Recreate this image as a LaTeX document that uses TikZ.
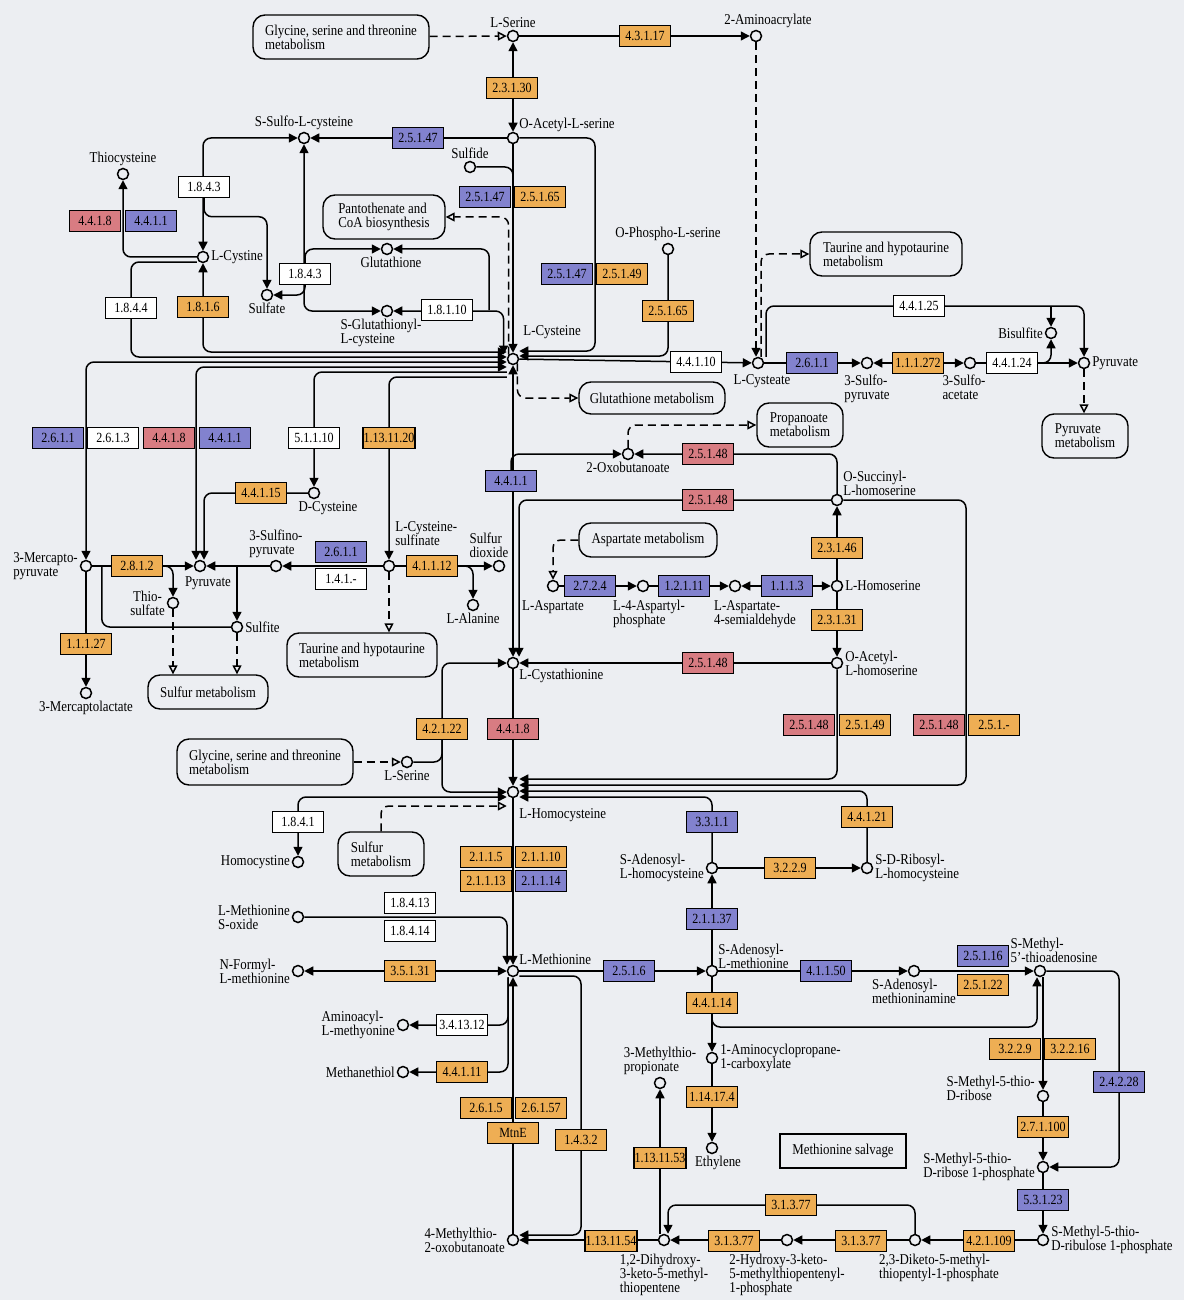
\documentclass[tikz,border=0pt]{standalone}
\usepackage{fontspec}
\setmainfont{Liberation Serif}[FakeStretch=0.86]
\usetikzlibrary{arrows.meta,positioning}
\definecolor{bg}{RGB}{236,238,242}
\definecolor{ecorange}{RGB}{238,174,84}
\definecolor{ecblue}{RGB}{130,130,206}
\definecolor{ecred}{RGB}{216,124,130}
\pgfdeclarelayer{back}
\pgfdeclarelayer{edges}
\pgfsetlayers{back,edges,main}
\newcommand{\cpdfont}{\fontsize{7.5}{7}\selectfont}
\newcommand{\ecfont}{\fontsize{7}{7}\selectfont}
\begin{document}
\begin{tikzpicture}[x=0.5pt,y=-0.5pt,
 cpd/.style={circle,draw,line width=0.75pt,fill=bg,minimum size=5.5pt,inner sep=0pt},
 lb/.style={font=\cpdfont,inner sep=0.8pt,align=left},
 ec/.style={draw,line width=0.7pt,minimum width=25.5pt,minimum height=10.5pt,inner sep=0.3pt,font=\ecfont},
 eco/.style={ec,fill=ecorange},
 ecb/.style={ec,fill=ecblue},
 ecr/.style={ec,fill=ecred},
 ecw/.style={ec,fill=white},
 map/.style={draw,line width=0.7pt,rounded corners=6pt,fill=bg,align=left,font=\cpdfont,minimum height=22pt,inner xsep=4pt},
 ln/.style={line width=0.75pt,rounded corners=4pt},
 dsh/.style={dash pattern=on 4pt off 2.5pt},
 dl/.style={ln,dsh,-{Triangle[open,length=4.5pt,width=4.5pt]}},
 >={Triangle[length=4.5pt,width=4.5pt]}]
\useasboundingbox (0,0) rectangle (1184,1300);
\begin{pgfonlayer}{back}
\fill[bg](0,0)rectangle(1184,1300);
\end{pgfonlayer}

\node[cpd,label={[lb]above:L-Serine}] (lser) at (513,36) {};
\node[cpd,label={[lb,xshift=6pt]above:2-Aminoacrylate}] (acryl) at (756,36) {};
\node[cpd,label={[lb]above right:O-Acetyl-L-serine}] (oacser) at (513,138) {};
\node[cpd,label={[lb]above:Sulfide}] (sulfide) at (470,167) {};
\node[cpd,label={[lb]above:S-Sulfo-L-cysteine}] (ssulfo) at (304,138) {};
\node[cpd,label={[lb]above:Thiocysteine}] (thiocys) at (123,174) {};
\node[cpd,label={[lb]right:L-Cystine}] (cystine) at (203,257) {};
\node[cpd,label={[lb]below:Sulfate}] (sulfate) at (267,295) {};
\node[cpd,label={[lb,xshift=2pt]below:Glutathione}] (gsh) at (387,249) {};
\node[cpd,label={[lb,xshift=-3pt]below:S-Glutathionyl-\\L-cysteine}] (gsscys) at (387,311) {};
\node[cpd,label={[lb,xshift=2pt,yshift=7pt]above right:L-Cysteine}] (lcys) at (513,359) {};
\node[cpd,label={[lb]above:O-Phospho-L-serine}] (ophos) at (668,249) {};
\node[cpd,label={[lb,xshift=2pt,yshift=-1.5pt]below:L-Cysteate}] (cysteate) at (758,363) {};
\node[cpd,label={[lb,yshift=-2pt]below:3-Sulfo-\\pyruvate}] (sulfopyr) at (867,363) {};
\node[cpd,label={[lb,xshift=-3pt,yshift=-2pt]below:3-Sulfo-\\acetate}] (sulfoac) at (970,363) {};
\node[cpd,label={[lb]left:Bisulfite}] (bisulf) at (1051,333) {};
\node[cpd,label={[lb]right:Pyruvate}] (pyr2) at (1084,363) {};
\node[cpd,label={[lb]below:2-Oxobutanoate}] (oxobut) at (628,454) {};
\node[cpd,label={[lb,yshift=-1pt]above right:O-Succinyl-\\L-homoserine}] (osucc) at (837,500) {};
\node[cpd,label={[lb]right:L-Homoserine}] (lhse) at (837,586) {};
\node[cpd,label={[lb]right:O-Acetyl-\\L-homoserine}] (oachse) at (837,663) {};
\node[cpd,label={[lb,yshift=-3pt]below:L-Aspartate}] (lasp) at (553,586) {};
\node[cpd,label={[lb,xshift=3pt,yshift=-3pt]below:L-4-Aspartyl-\\phosphate}] (asp4p) at (643,586) {};
\node[cpd,label={[lb,xshift=10pt,yshift=-3pt]below:L-Aspartate-\\4-semialdehyde}] (aspsa) at (735,586) {};
\node[cpd,label={[lb,xshift=7pt]below:D-Cysteine}] (dcys) at (314,493) {};
\node[cpd,label={[lb]left:3-Mercapto-\\pyruvate}] (mercpyr) at (86,566) {};
\node[cpd,label={[lb,xshift=4pt,yshift=-1pt]below:Pyruvate}] (pyr1) at (200,566) {};
\node[cpd,label={[lb]above:3-Sulfino-\\pyruvate}] (sulfinopyr) at (276,566) {};
\node[cpd,label={[lb,yshift=7pt]above right:L-Cysteine-\\sulfinate}] (cyssulf) at (389,566) {};
\node[cpd,label={[lb,xshift=-5pt]above:Sulfur\\dioxide}] (so2) at (499,566) {};
\node[cpd,label={[lb]below:L-Alanine}] (lala) at (473,605) {};
\node[cpd,label={[lb,align=center]left:Thio-\\sulfate}] (thiosulf) at (173,603) {};
\node[cpd,label={[lb]right:Sulfite}] (sulfite) at (237,627) {};
\node[cpd,label={[lb]below:3-Mercaptolactate}] (merclac) at (86,693) {};
\node[cpd,label={[lb]below right:L-Cystathionine}] (lcysta) at (513,663) {};
\node[cpd,label={[lb]below:L-Serine}] (lser2) at (407,762) {};
\node[cpd,label={[lb,yshift=-5pt]below right:L-Homocysteine}] (lhcy) at (513,792) {};
\node[cpd,label={[lb]left:Homocystine}] (homocystine) at (298,862) {};
\node[cpd,label={[lb]left:S-Adenosyl-\\L-homocysteine}] (sah) at (712,868) {};
\node[cpd,label={[lb]right:S-D-Ribosyl-\\L-homocysteine}] (sdrib) at (867,868) {};
\node[cpd,label={[lb]left:L-Methionine\\S-oxide}] (metso) at (298,917) {};
\node[cpd,label={[lb]above right:L-Methionine}] (lmet) at (513,971) {};
\node[cpd,label={[lb]left:N-Formyl-\\L-methionine}] (nformmet) at (298,971) {};
\node[cpd,label={[lb,yshift=-2pt]above right:S-Adenosyl-\\L-methionine}] (sam) at (712,971) {};
\node[cpd,label={[lb]below:S-Adenosyl-\\methioninamine}] (sadomet) at (914,971) {};
\node[cpd,label={[lb,xshift=7pt]above:S-Methyl-\\5'-thioadenosine}] (mta) at (1040,971) {};
\node[cpd,label={[lb]left:Aminoacyl-\\L-methyonine}] (aminoacyl) at (403,1025) {};
\node[cpd,label={[lb]left:Methanethiol}] (methanethiol) at (403,1072) {};
\node[cpd,label={[lb]right:1-Aminocyclopropane-\\1-carboxylate}] (acc) at (712,1058) {};
\node[cpd,label={[lb]above:3-Methylthio-\\propionate}] (mtprop) at (660,1083) {};
\node[cpd,label={[lb,xshift=3pt]below:Ethylene}] (ethylene) at (712,1148) {};
\node[cpd,label={[lb,yshift=4pt]left:S-Methyl-5-thio-\\D-ribose}] (mtr) at (1043,1096) {};
\node[cpd,label={[lb]left:S-Methyl-5-thio-\\D-ribose 1-phosphate}] (mtr1p) at (1043,1167) {};
\node[cpd,label={[lb]right:S-Methyl-5-thio-\\D-ribulose 1-phosphate}] (mtru1p) at (1043,1240) {};
\node[cpd,label={[lb,xshift=12pt,yshift=-3pt]below:{2,3-Diketo-5-methyl-\\thiopentyl-1-phosphate}}] (dk) at (915,1240) {};
\node[cpd,label={[lb,yshift=-3pt]below:2-Hydroxy-3-keto-\\5-methylthiopentenyl-\\1-phosphate}] (hk) at (787,1240) {};
\node[cpd,label={[lb,yshift=-3pt]below:{1,2-Dihydroxy-\\3-keto-5-methyl-\\thiopentene}}] (dhk) at (664,1240) {};
\node[cpd,label={[lb]left:4-Methylthio-\\2-oxobutanoate}] (mtob) at (513,1240) {};

\node[map,minimum width=88pt] (gst1) at (341,37) {Glycine, serine and threonine\\metabolism};
\node[map,minimum width=61pt] (panto) at (384,217) {Pantothenate and\\CoA biosynthesis};
\node[map,minimum width=76pt] (taur1) at (886,254) {Taurine and hypotaurine\\metabolism};
\node[map,minimum width=73pt,minimum height=16pt] (glutmet) at (652,398) {Glutathione metabolism};
\node[map,minimum width=43pt] (propmet) at (800,425) {Propanoate\\metabolism};
\node[map,minimum width=43pt] (pyrmet) at (1085,436) {Pyruvate\\metabolism};
\node[map,minimum width=69pt,minimum height=17pt] (aspmet) at (648,540) {Aspartate metabolism};
\node[map,minimum width=75pt] (taur2) at (362,655) {Taurine and hypotaurine\\metabolism};
\node[map,minimum width=60pt,minimum height=17pt] (sulfmet1) at (208,692) {Sulfur metabolism};
\node[map,minimum width=88pt,minimum height=23pt] (gst2) at (265,762) {Glycine, serine and threonine\\metabolism};
\node[map,minimum width=43pt] (sulfmet2) at (381,854) {Sulfur\\metabolism};
\node[draw,line width=0.7pt,fill=bg,font=\cpdfont,minimum width=63pt,minimum height=17pt] (salvage) at (843,1151) {Methionine salvage};

\node[eco] (e43117) at (645,36) {4.3.1.17};
\node[eco] (e23130) at (512,88) {2.3.1.30};
\node[ecb] (e25147a) at (418,138) {2.5.1.47};
\node[ecb] (e25147b) at (485,197) {2.5.1.47};
\node[eco] (e25165a) at (540,197) {2.5.1.65};
\node[ecw] (e1843a) at (204,187) {1.8.4.3};
\node[ecr] (e4418a) at (95,221) {4.4.1.8};
\node[ecb] (e4411a) at (151,221) {4.4.1.1};
\node[ecw] (e1843b) at (305,274) {1.8.4.3};
\node[ecw] (e1844) at (131,308) {1.8.4.4};
\node[eco] (e1816) at (203,307) {1.8.1.6};
\node[ecw] (e18110) at (447,310) {1.8.1.10};
\node[ecb] (e25147c) at (567,274) {2.5.1.47};
\node[eco] (e25149a) at (622,274) {2.5.1.49};
\node[eco] (e25165b) at (668,311) {2.5.1.65};
\node[ecw] (e44125) at (919,306) {4.4.1.25};
\node[ecw] (e44110) at (696,362) {4.4.1.10};
\node[ecb] (e2611a) at (812,363) {2.6.1.1};
\node[eco] (e111272) at (918,363) {1.1.1.272};
\node[ecw] (e44124) at (1012,363) {4.4.1.24};
\node[ecb] (e2611b) at (58,438) {2.6.1.1};
\node[ecw] (e2613) at (113,438) {2.6.1.3};
\node[ecr] (e4418b) at (169,438) {4.4.1.8};
\node[ecb] (e4411b) at (225,438) {4.4.1.1};
\node[ecw] (e51110) at (314,438) {5.1.1.10};
\node[eco] (e1131120) at (389,438) {1.13.11.20};
\node[ecb] (e4411c) at (511,481) {4.4.1.1};
\node[ecr] (e25148a) at (708,454) {2.5.1.48};
\node[ecr] (e25148b) at (708,500) {2.5.1.48};
\node[eco] (e44115) at (261,493) {4.4.1.15};
\node[ecb] (e2611c) at (341,552) {2.6.1.1};
\node[ecw] (e141) at (341,579) {1.4.1.-};
\node[eco] (e41112) at (432,566) {4.1.1.12};
\node[eco] (e2812) at (137,566) {2.8.1.2};
\node[ecb] (e2724) at (590,586) {2.7.2.4};
\node[ecb] (e12111) at (684,586) {1.2.1.11};
\node[ecb] (e1113) at (787,586) {1.1.1.3};
\node[eco] (e23146) at (837,548) {2.3.1.46};
\node[eco] (e23131) at (837,620) {2.3.1.31};
\node[eco] (e11127) at (86,644) {1.1.1.27};
\node[ecr] (e25148c) at (708,663) {2.5.1.48};
\node[eco] (e42122) at (442,729) {4.2.1.22};
\node[ecr] (e4418c) at (513,729) {4.4.1.8};
\node[ecr] (e25148d) at (809,725) {2.5.1.48};
\node[eco] (e25149b) at (865,725) {2.5.1.49};
\node[ecr] (e25148e) at (939,725) {2.5.1.48};
\node[eco] (e251x) at (994,725) {2.5.1.-};
\node[ecw] (e1841) at (298,822) {1.8.4.1};
\node[ecb] (e3311) at (712,822) {3.3.1.1};
\node[eco] (e44121) at (867,817) {4.4.1.21};
\node[eco] (e2115) at (486,857) {2.1.1.5};
\node[eco] (e21110) at (541,857) {2.1.1.10};
\node[eco] (e21113) at (486,881) {2.1.1.13};
\node[ecb] (e21114) at (541,881) {2.1.1.14};
\node[eco] (e3229a) at (790,868) {3.2.2.9};
\node[ecb] (e21137) at (712,919) {2.1.1.37};
\node[ecw] (e18413) at (410,903) {1.8.4.13};
\node[ecw] (e18414) at (410,931) {1.8.4.14};
\node[eco] (e35131) at (410,971) {3.5.1.31};
\node[ecb] (e2516) at (629,971) {2.5.1.6};
\node[ecb] (e41150) at (826,971) {4.1.1.50};
\node[ecb] (e25116) at (983,956) {2.5.1.16};
\node[eco] (e25122) at (983,985) {2.5.1.22};
\node[eco] (e44114) at (712,1003) {4.4.1.14};
\node[ecw] (e341312) at (462,1025) {3.4.13.12};
\node[eco] (e44111) at (462,1072) {4.4.1.11};
\node[eco] (e2615) at (486,1108) {2.6.1.5};
\node[eco] (e26157) at (541,1108) {2.6.1.57};
\node[eco] (emtne) at (513,1133) {MtnE};
\node[eco] (e1432) at (581,1140) {1.4.3.2};
\node[eco] (e114174) at (712,1097) {1.14.17.4};
\node[eco] (e1131153) at (660,1158) {1.13.11.53};
\node[eco] (e3229b) at (1015,1049) {3.2.2.9};
\node[eco] (e32216) at (1070,1049) {3.2.2.16};
\node[ecb] (e24228) at (1119,1082) {2.4.2.28};
\node[eco] (e271100) at (1043,1127) {2.7.1.100};
\node[ecb] (e53123) at (1043,1200) {5.3.1.23};
\node[eco] (e31377a) at (791,1205) {3.1.3.77};
\node[eco] (e1131154) at (611,1241) {1.13.11.54};
\node[eco] (e31377b) at (734,1241) {3.1.3.77};
\node[eco] (e31377c) at (861,1241) {3.1.3.77};
\node[eco] (e421109) at (989,1241) {4.2.1.109};

\coordinate (jA) at (595,351);
\coordinate (jC) at (966,785);
\coordinate (jE) at (1037,1027);

\begin{pgfonlayer}{edges}
\draw[dl](gst1)--(lser);
\draw[ln,->](lser)--(acryl);
\draw[ln,<->](oacser)--(lser);
\draw[ln,dsh,->](acryl)--(acryl|-cysteate.north);
\draw[dl]([xshift=1.5pt]cysteate.north)|-(taur1);
\draw[ln,->]([xshift=4pt]cysteate.north)|-(e44125.center)-|(pyr2);
\draw[ln,->](bisulf|-e44125)--(bisulf);
\draw[ln,->](lcys)--(cysteate);
\draw[ln,->](cysteate)--(sulfopyr);
\draw[ln,<->](sulfopyr)--(sulfoac);
\draw[ln,->](sulfoac)--(pyr2);
\draw[ln,->](e44124.east)-|(bisulf);
\draw[dl](pyr2)--(pyr2|-pyrmet.north);
\draw[ln,->](oacser)--(ssulfo);
\draw[ln,->](oacser)--(lcys);
\draw[ln](sulfide)-|(e25147b.north-|oacser);
\draw[ln,->](oacser)-|(jA)--([yshift=4pt]lcys.east);
\draw[ln,->](ophos)|-([yshift=1.5pt]lcys.east);
\draw[ln,<->](cystine)|-(ssulfo);
\draw[ln,->](e1843a.south)|-([yshift=36pt]sulfate.north)--(sulfate);
\draw[ln,<->](ssulfo)|-(gsscys);
\draw[ln,->](e1843b.north)|-(gsh);
\draw[ln,->](e1843b.south)|-(sulfate);
\draw[ln,<->]([xshift=-2.5pt]lcys.north west)|-(gsscys);
\draw[ln,->]([xshift=8pt]e18110.east)|-(gsh);
\draw[dl](lcys.north west)|-(panto);
\draw[ln,->](cystine)-|(thiocys);
\draw[ln,->]([yshift=-2.5pt]cystine.west)-|(e1844.center)|-([yshift=1pt]lcys.west);
\draw[ln,<->](cystine)|-([yshift=3.5pt]lcys.west);
\draw[ln,<->]([yshift=-1.5pt]lcys.west)-|(mercpyr);
\draw[ln,<->]([yshift=-4pt]lcys.west)-|([xshift=-2pt]pyr1.north);
\draw[ln,->]([yshift=-6.5pt]lcys.west)-|(dcys);
\draw[ln,->]([yshift=-9pt]lcys.west)-|(cyssulf);
\draw[ln,->](dcys)-|([xshift=2pt]pyr1.north);
\draw[ln,->](mercpyr)--(pyr1);
\draw[ln,->](e2812.east)-|(thiosulf);
\draw[ln]([xshift=-4.5pt]e2812.west)|-(sulfite);
\draw[ln,->](sulfinopyr)--(pyr1);
\draw[ln,->](sulfite|-pyr1)--(sulfite);
\draw[ln,->](cyssulf)--(sulfinopyr);
\draw[ln,->](cyssulf)--(so2);
\draw[ln,->](e41112.east)-|(lala);
\draw[dl](cyssulf)--(cyssulf|-taur2.north);
\draw[dl](thiosulf)--(thiosulf|-sulfmet1.north);
\draw[dl](sulfite)--(sulfite|-sulfmet1.north);
\draw[ln,->](mercpyr)--(merclac);
\draw[dl](lcys.south east)|-(glutmet);
\draw[ln,<->](lcys)--(lcysta);
\draw[ln,->](e4411c.north)|-(oxobut);
\draw[ln,->](osucc)-|([xshift=3pt]lcysta.north);
\draw[ln,->](osucc)|-(oxobut);
\draw[dl](oxobut)|-(propmet);
\draw[ln,->](osucc)-|(jC)--([yshift=3.5pt]lhcy.east);
\draw[ln,->](oachse)|-([yshift=6.5pt]lhcy.east);
\draw[ln,->](sdrib)|-([yshift=0.5pt]lhcy.east);
\draw[ln,->](sah)|-([yshift=-2.5pt]lhcy.east);
\draw[ln,->](oachse)--(lcysta);
\draw[ln,->](lhse)--(osucc);
\draw[ln,->](lhse)--(oachse);
\draw[ln,->](lasp)--(asp4p);
\draw[ln,->](asp4p)--(aspsa);
\draw[ln,<->](aspsa)--(lhse);
\draw[dl](aspmet)-|(lasp);
\draw[ln,->](lcysta)--(lhcy);
\draw[ln,<->](lhcy.west)-|(e42122.center)|-(lcysta);
\draw[ln](lser2)-|(e42122.south);
\draw[dl](gst2)--(lser2);
\draw[dl](sulfmet2)|-([yshift=-7pt]lhcy.west);
\draw[ln,<->]([yshift=-2.5pt]lhcy.west)-|(homocystine);
\draw[ln,->](lhcy)--(lmet);
\draw[ln,->](metso)-|([xshift=-3pt]lmet.north);
\draw[ln,<->](nformmet)--(lmet);
\draw[ln,->](lmet)--(sam);
\draw[ln,->]([yshift=-2.5pt]lmet.east)-|(e1432.center)|-([yshift=2.5pt]mtob.east);
\draw[ln,->](mtob)--(lmet);
\draw[ln,->]([xshift=-2.5pt]lmet.south)|-(aminoacyl);
\draw[ln,->]([xshift=-2.5pt]lmet.south)|-(methanethiol);
\draw[ln,->](sam)--(sah);
\draw[ln,->](sah)--(sdrib);
\draw[ln,->](sam)--(sadomet);
\draw[ln,->](sadomet)--(mta);
\draw[ln,->](sam)--(acc);
\draw[ln,->](e44114.south)|-(jE)--([xshift=-1.5pt]mta.south);
\draw[ln,->]([xshift=1.5pt]mta.south)--([xshift=1.5pt]mta.south|-mtr.north);
\draw[ln,->](mta)-|(e24228.center)|-(mtr1p);
\draw[ln,->](mtr)--(mtr1p);
\draw[ln,->](mtr1p)--(mtru1p);
\draw[ln,->](mtru1p)--(dk);
\draw[ln,->](dk)--(hk);
\draw[ln,->](dk)|-(e31377a.center)-|([xshift=2pt]dhk.north);
\draw[ln,->](hk)--(dhk);
\draw[ln,->](dhk)--(mtob);
\draw[ln,->](dhk.north-|mtprop)--(mtprop);
\draw[ln,->](acc)--(ethylene);
\end{pgfonlayer}
\end{tikzpicture}
\end{document}
